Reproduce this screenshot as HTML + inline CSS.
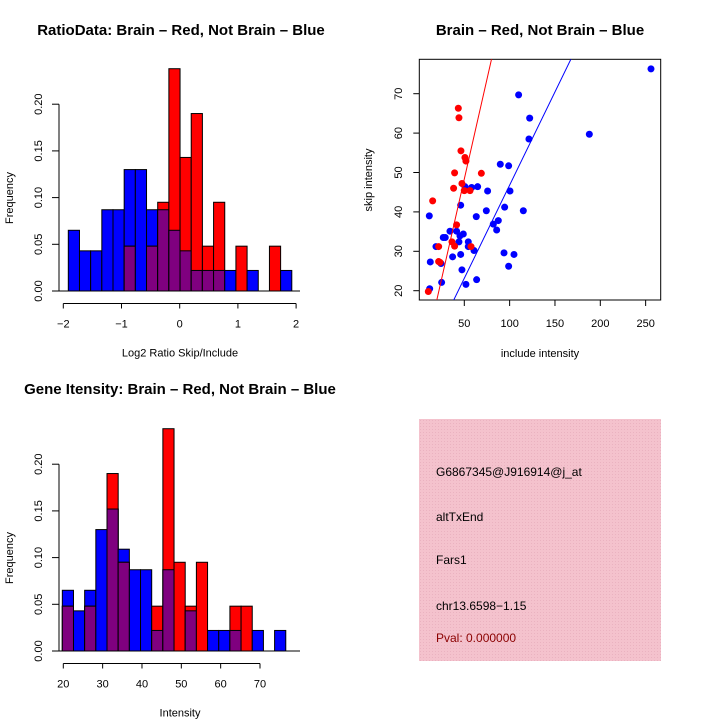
<!DOCTYPE html>
<html><head><meta charset="utf-8"><style>
body{margin:0;background:#fff;}
svg{display:block;font-family:"Liberation Sans",Arial,sans-serif;}
</style></head><body>
<svg id="root" width="720" height="720" viewBox="0 0 720 720">
<defs>
<pattern id="pinkpat" width="3" height="3" patternUnits="userSpaceOnUse">
<rect width="3" height="3" fill="#f4c2cd"/><rect width="1" height="1" fill="#eab2c0"/>
</pattern>
</defs>
<text x="181" y="35" text-anchor="middle" font-size="15" font-weight="bold">RatioData: Brain – Red, Not Brain – Blue</text>
<text x="540" y="35" text-anchor="middle" font-size="15" font-weight="bold">Brain – Red, Not Brain – Blue</text>
<text x="180" y="394" text-anchor="middle" font-size="15" font-weight="bold">Gene Itensity: Brain – Red, Not Brain – Blue</text>
<g id="h1"></g>
<g id="h2"></g>
<g id="sc"></g>
<g>
<rect x="419" y="419" width="242" height="242" fill="url(#pinkpat)"/>
<g font-size="12">
<text x="436" y="476">G6867345@J916914@j_at</text>
<text x="436" y="521">altTxEnd</text>
<text x="436" y="564">Fars1</text>
<text x="436" y="610">chr13.6598−1.15</text>
<text x="436" y="642" fill="#8b0000">Pval: 0.000000</text>
</g></g>
</svg>
<script>
const NS="http://www.w3.org/2000/svg";
// ratio histogram data
const ratioBinStart=-1.914, ratioBinWidth=0.192;
const ratioBlue=[0.065,0.043,0.043,0.087,0.087,0.130,0.130,0.087,0.087,0.065,0.043,0.022,0.022,0.022,0.022,0,0.022,0,0,0.022];
const ratioRed=[0,0,0,0,0,0.048,0,0.048,0.095,0.238,0.143,0.190,0.048,0.095,0,0.048,0,0,0.048,0];
const ratioXTicks=[-2,-1,0,1,2];
// intensity histogram data
const intBinStart=19.75, intBinWidth=2.84;
const intBlue=[0.065,0.043,0.065,0.130,0.152,0.109,0.087,0.087,0.022,0.087,0,0.043,0,0.022,0.022,0.022,0,0.022,0,0.022];
const intRed=[0.048,0,0.048,0,0.190,0.095,0,0,0.048,0.238,0.095,0.048,0.095,0,0,0.048,0.048,0,0,0];
const intXTicks=[20,30,40,50,60,70];
const freqTicks=[0,0.05,0.10,0.15,0.20];
const freqTickLabels=["0.00","0.05","0.10","0.15","0.20"];
// scatter data
const redX=[10.3,15.1,21.7,21.7,43.4,44.1,46.3,50.7,51.8,39.3,68.8,38.2,47.4,50.0,56.3,41.5,36.4,39.3,57.4,23.2];
const redY=[19.8,42.8,27.4,31.2,66.3,63.9,55.5,53.8,52.9,49.9,49.8,46.0,47.2,45.4,45.4,36.7,32.4,31.3,31.2,27.2];
const blueX=[255.9,187.9,109.9,122.1,121.3,89.7,98.9,100.4,75.7,64.7,58.1,50.7,46.0,74.3,63.2,94.5,115.1,87.5,82.0,85.7,11.4,34.2,41.5,48.9,45.2,26.8,29.0,44.1,54.4,18.8,54.4,60.7,37.1,46.0,93.8,104.8,12.5,24.3,98.9,47.4,25.0,63.6,51.8,11.8];
const blueY=[76.3,59.7,69.7,63.8,58.5,52.1,51.7,45.3,45.3,46.4,46.2,46.4,41.7,40.3,38.8,41.2,40.3,37.8,36.9,35.4,39.0,35.1,35.1,34.4,33.9,33.5,33.5,32.4,32.4,31.2,31.2,30.2,28.6,29.2,29.6,29.2,27.3,26.9,26.2,25.3,22.1,22.8,21.6,20.5];
const redFit=[-2.3,1.013];   // intercept, slope
const blueFit=[-0.5,0.473];
const scXTicks=[50,100,150,200,250];
const scYTicks=[20,30,40,50,60,70];

function el(parent,tag,attrs){const e=document.createElementNS(NS,tag);for(const k in attrs)e.setAttribute(k,attrs[k]);parent.appendChild(e);return e;}

function histogram(gid,y0,ax,binStart,binW,blue,red,xticks,xtitle){
  const g=document.getElementById(gid);
  const sx=v=>63.3+(v-ax.min)*ax.k;
  const sy=v=>y0-v*934;
  for(let i=0;i<blue.length;i++){
    const x1=sx(binStart+i*binW),x2=sx(binStart+(i+1)*binW);
    const draw=(v,c,nm)=>{if(v<=0)return;const r=el(g,'rect',{x:x1,y:sy(v),width:x2-x1,height:sy(0)-sy(v),fill:c,stroke:'#000','stroke-width':1});
      
      };
    draw(blue[i],'#0000ff','blue');
    draw(red[i],'#ff0000','red');
    draw(Math.min(blue[i],red[i]),'#7f007f','overlap');
  }
  const base=el(g,'line',{x1:59,x2:300,y1:y0,y2:y0,stroke:'#000'});
  
  const ya=el(g,'line',{x1:59,x2:59,y1:sy(0),y2:sy(0.2),stroke:'#000'});
  
  freqTicks.forEach((t,i)=>{el(g,'line',{x1:52,x2:59,y1:sy(t),y2:sy(t),stroke:'#000'});
    const tx=el(g,'text',{x:0,y:0,'font-size':11,'text-anchor':'middle',transform:`translate(42,${sy(t)}) rotate(-90)`});
    tx.textContent=freqTickLabels[i];
    });
  const yt=el(g,'text',{'font-size':11,'text-anchor':'middle',transform:`translate(13,${y0-93}) rotate(-90)`});
  yt.textContent='Frequency';
  const axY=y0+12.5;
  const xa=el(g,'line',{x1:sx(xticks[0]),x2:sx(xticks[xticks.length-1]),y1:axY,y2:axY,stroke:'#000'});
  
  xticks.forEach(t=>{el(g,'line',{x1:sx(t),x2:sx(t),y1:axY,y2:axY+5,stroke:'#000'});
    const tx=el(g,'text',{x:sx(t),y:axY+24,'font-size':11,'text-anchor':'middle'});tx.textContent=t<0?'−'+(-t):String(t);
    });
  const xt=el(g,'text',{x:180,y:axY+53,'font-size':11,'text-anchor':'middle'});
  xt.textContent=xtitle;
}
histogram('h1',291,{min:-2,k:58.2},ratioBinStart,ratioBinWidth,ratioBlue,ratioRed,ratioXTicks,'Log2 Ratio Skip/Include');
histogram('h2',651,{min:20,k:3.934},intBinStart,intBinWidth,intBlue,intRed,intXTicks,'Intensity');

(function(){
  const g=document.getElementById('sc');
  const L=419.3,R=660.7,T=59.3,B=300;
  const sx=v=>464.3+(v-50)*0.9067;
  const sy=v=>290.7-(v-20)*3.94;
  const cp=el(g,'clipPath',{id:'scclip'});el(cp,'rect',{x:L,y:T,width:R-L,height:B-T});
  const box=el(g,'rect',{x:L,y:T,width:R-L,height:B-T,fill:'none',stroke:'#000'});
  
  const pts=el(g,'g',{'clip-path':'url(#scclip)'});
  blueX.forEach((x,i)=>{const c=el(pts,'circle',{cx:sx(x),cy:sy(blueY[i]),r:3.5,fill:'#0000ff'});
    });
  redX.forEach((x,i)=>{const c=el(pts,'circle',{cx:sx(x),cy:sy(redY[i]),r:3.5,fill:'#ff0000'});
    });
  const fit=(f,col,nm)=>{const x1=0,x2=270;const l=el(pts,'line',{x1:sx(x1),y1:sy(f[0]+f[1]*x1),x2:sx(x2),y2:sy(f[0]+f[1]*x2),stroke:col,'stroke-width':1});
    };
  fit(redFit,'#ff0000','red-fit-line');fit(blueFit,'#0000ff','blue-fit-line');
  scXTicks.forEach(t=>{el(g,'line',{x1:sx(t),x2:sx(t),y1:B,y2:B+6,stroke:'#000'});
    const tx=el(g,'text',{x:sx(t),y:B+27,'font-size':11,'text-anchor':'middle'});tx.textContent=t;
    });
  scYTicks.forEach(t=>{el(g,'line',{x1:L-6,x2:L,y1:sy(t),y2:sy(t),stroke:'#000'});
    const tx=el(g,'text',{'font-size':11,'text-anchor':'middle',transform:`translate(402,${sy(t)}) rotate(-90)`});tx.textContent=t;
    });
  const xt=el(g,'text',{x:540,y:357,'font-size':11,'text-anchor':'middle'});xt.textContent='include intensity';
  
  const yt=el(g,'text',{'font-size':11,'text-anchor':'middle',transform:'translate(372,180) rotate(-90)'});yt.textContent='skip intensity';
  
})();
</script>
</body></html>
